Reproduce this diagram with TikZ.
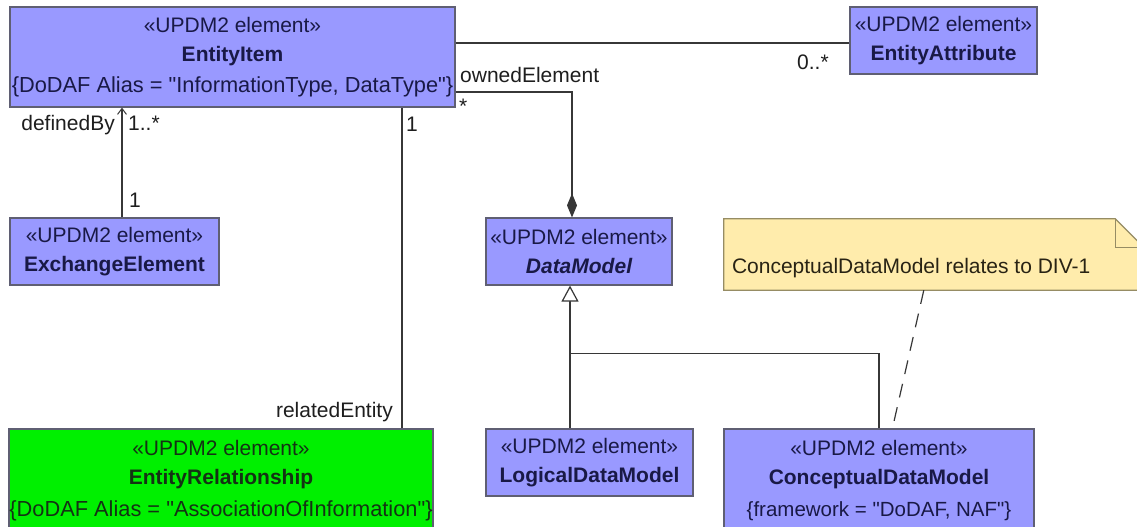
\documentclass[tikz,border=0pt]{standalone}
\usepackage{fontspec}
\setmainfont{Liberation Sans}[Ligatures=TeXOff]
\usetikzlibrary{arrows.meta,calc}
\definecolor{elemfill}{RGB}{153,153,255}
\definecolor{elemborder}{RGB}{95,95,115}
\definecolor{elemtext}{RGB}{25,25,70}
\definecolor{relfill}{RGB}{0,240,0}
\definecolor{notefill}{RGB}{255,236,172}
\definecolor{noteborder}{RGB}{150,140,100}
\definecolor{linecol}{RGB}{55,55,55}
\definecolor{labcol}{RGB}{30,30,30}
\tikzset{
  elem/.style={draw=elemborder, fill=elemfill, text=elemtext, align=center, inner sep=0pt, line width=1.2pt, font=\fontsize{21}{29}\selectfont},
  relem/.style={elem, fill=relfill, text={rgb,255:red,20;green,50;blue,20}},
  lab/.style={text=labcol, inner sep=0pt, font=\fontsize{21}{25}\selectfont},
  conn/.style={draw=linecol, line width=1.2pt},
  comp/.style={conn, -{Diamond[length=24pt,width=10pt,fill=linecol]}},
  gen/.style={conn, -{Triangle[open,length=16pt,width=17pt,fill=white]}},
  navarrow/.style={conn, -{Straight Barb[length=6pt,width=9pt,line width=1pt]}},
  notelink/.style={conn, dash pattern=on 14pt off 10pt}
}
\newcommand{\aliasfont}{\fontsize{21.8}{29}\selectfont}
\begin{document}
\begin{tikzpicture}[x=1pt,y=-1pt]
\useasboundingbox (0,0) rectangle (1137,527);
\fill[white] (0,0) rectangle (1137,527);
\clip (0,0) rectangle (1137,527);

% elements
\node[elem, minimum width=445pt, minimum height=100pt] (item) at (232.5,57)
  {«UPDM2 element»\\{\bfseries EntityItem}\\[2pt]{\aliasfont\{DoDAF Alias = "InformationType, DataType"\}}};
\node[elem, minimum width=187pt, minimum height=67pt] (attr) at (943.5,40.5)
  {«UPDM2 element»\\{\bfseries EntityAttribute}};
\node[elem, minimum width=209pt, minimum height=67pt] (exch) at (114.5,251.5)
  {«UPDM2 element»\\{\bfseries ExchangeElement}};
\node[elem, minimum width=186pt, minimum height=67pt] (dm) at (579,251.5)
  {«UPDM2 element»\\{\bfseries\itshape DataModel}};
\node[relem, minimum width=424pt, minimum height=103pt] (er) at (221,480.5)
  {«UPDM2 element»\\{\bfseries EntityRelationship}\\[3pt]{\aliasfont\{DoDAF Alias = "AssociationOfInformation"\}}};
\node[elem, minimum width=207pt, minimum height=67pt] (ldm) at (589.5,462.5)
  {«UPDM2 element»\\{\bfseries LogicalDataModel}};
\node[elem, minimum width=310pt, minimum height=103pt] (cdm) at (879,480.5)
  {«UPDM2 element»\\{\bfseries ConceptualDataModel}\\[3pt]{\fontsize{20.5}{25}\selectfont\{framework = "DoDAF, NAF"\}}};

% note
\node[minimum width=420pt, minimum height=71pt, inner sep=0pt] (note) at (934,254.5) {};
\filldraw[fill=notefill, draw=noteborder, line width=1.2pt]
  (note.north west) -- ([xshift=-29pt]note.north east) -- ([yshift=-29pt]note.north east)
  -- (note.south east) -- (note.south west) -- cycle;
\draw[draw=noteborder, line width=1.2pt]
  ([xshift=-29pt]note.north east) -- ([xshift=-29pt,yshift=-29pt]note.north east) -- ([yshift=-29pt]note.north east);
\node[lab, anchor=west, text={rgb,255:red,40;green,35;blue,20}] (notetext) at ([xshift=8pt,yshift=-13.5pt]note.west) {ConceptualDataModel relates to DIV-1};

% association EntityItem -- EntityAttribute
\coordinate (ia) at ([yshift=14pt]item.east);
\draw[conn] (ia) -- (ia -| attr.west);
\node[lab, anchor=west] (m0) at (797,62) {0..*};

% composition EntityItem -- DataModel
\coordinate (ic) at ([yshift=-35pt]item.east);
\coordinate (dc) at ([xshift=-7pt]dm.north);
\draw[comp] (ic) -| (dc);
\node[lab, anchor=west] (own) at (460,75) {ownedElement};
\node[lab, anchor=west] (ownm) at (459,106) {*};

% ExchangeElement -> EntityItem
\coordinate (ex) at ([xshift=7.5pt]exch.north);
\draw[navarrow] (ex) -- (ex |- item.south);
\node[lab, anchor=east] (defby) at (115,125) {definedBy};
\node[lab, anchor=west] (defm) at (128,123) {1..*};
\node[lab, anchor=west] (exm) at (129,200) {1};

% EntityRelationship -- EntityItem
\coordinate (rl) at ([xshift=181pt]er.north);
\draw[conn] (rl) -- (rl |- item.south);
\node[lab, anchor=west] (relm) at (406,124) {1};
\node[lab, anchor=east] (relname) at (393,412) {relatedEntity};

% generalizations
\coordinate (gl) at ([xshift=-19.5pt]ldm.north);
\draw[gen] (gl) -- (gl |- dm.south);
\coordinate (gc) at (cdm.north);
\draw[conn] (gc) |- ($(gl |- dm.south)+(0,68)$);

% note link
\coordinate (na) at ([xshift=200pt]note.south west);
\coordinate (ca) at ([xshift=169pt]cdm.north west);
\draw[notelink] (na) -- (ca);
\end{tikzpicture}
\end{document}
